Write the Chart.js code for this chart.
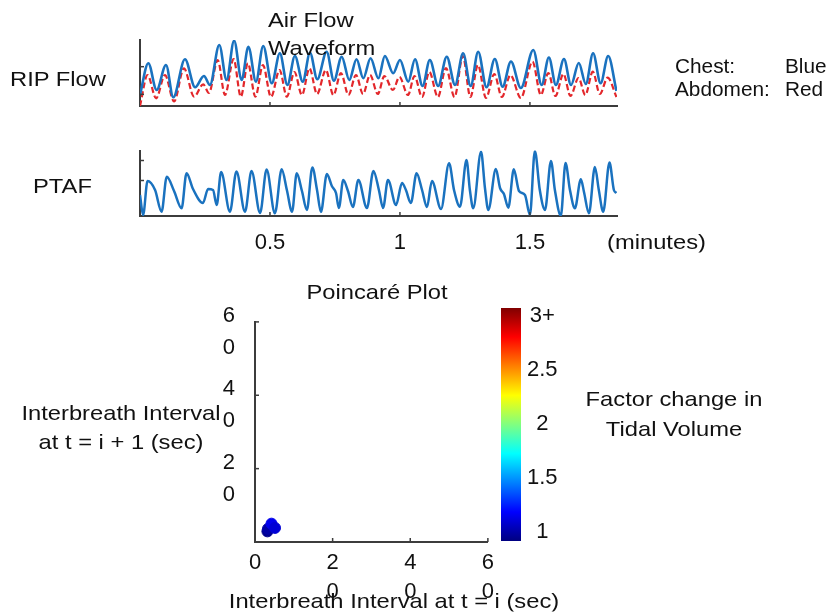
<!DOCTYPE html>
<html>
<head>
<meta charset="utf-8">
<script src="https://cdn.jsdelivr.net/npm/chart.js@4.4.1/dist/chart.umd.min.js"></script>
<style>
  html, body { margin: 0; padding: 0; background: #fff; }
  #fig { position: relative; width: 832px; height: 616px; overflow: hidden;
         font-family: "Liberation Sans", Arial, sans-serif; color: #111; }
  canvas { position: absolute; }
  .t { position: absolute; white-space: nowrap; line-height: 1; font-size: 21px; }
  .l { transform: translateY(-50%) scaleX(1.13); transform-origin: left center; }
  .c { transform: translate(-50%, -50%) scaleX(1.13); transform-origin: center center; }
  .s { font-size: 20px; transform: translateY(-50%) scaleX(1.04); transform-origin: left center; }
</style>
</head>
<body>
<div id="fig">
  <canvas id="rip" width="832" height="130" style="left:0;top:0"></canvas>
  <canvas id="ptaf" width="832" height="130" style="left:0;top:130px"></canvas>
  <canvas id="poincare" width="500" height="346" style="left:0;top:270px"></canvas>
  <canvas id="cbar" width="120" height="346" style="left:490px;top:270px"></canvas>

  <div class="t l" style="left:268px;top:19px">Air Flow</div>
  <div class="t l" style="left:268px;top:47px">Waveform</div>
  <div class="t l" style="left:10px;top:78px">RIP Flow</div>
  <div class="t l" style="left:33px;top:185px">PTAF</div>
  <div class="t s" style="left:675px;top:66px">Chest:</div>
  <div class="t s" style="left:785px;top:66px">Blue</div>
  <div class="t s" style="left:675px;top:89px">Abdomen:</div>
  <div class="t s" style="left:785px;top:89px">Red</div>
  <div class="t l" style="left:607px;top:241px">(minutes)</div>
  <div class="t c" style="left:377px;top:291px">Poincaré Plot</div>
  <div class="t c" style="left:121px;top:412px">Interbreath Interval</div>
  <div class="t c" style="left:121px;top:441px">at t = i + 1 (sec)</div>
  <div class="t c" style="left:674px;top:398px">Factor change in</div>
  <div class="t c" style="left:674px;top:428px">Tidal Volume</div>
  <div class="t c" style="left:394px;top:600px">Interbreath Interval at t = i (sec)</div>
</div>

<script>
// ---- RIP flow (minutes, arbitrary flow units) ----
const ripTime = [0, 0.032, 0.064, 0.100, 0.128, 0.173, 0.212, 0.246, 0.269, 0.305, 0.333, 0.362, 0.391, 0.417, 0.446, 0.474, 0.507, 0.538, 0.567, 0.596, 0.626, 0.654, 0.682, 0.718, 0.746, 0.776, 0.805, 0.833, 0.859, 0.887, 0.917, 0.942, 0.974, 1.000, 1.032, 1.058, 1.087, 1.115, 1.147, 1.180, 1.212, 1.243, 1.272, 1.301, 1.333, 1.365, 1.395, 1.427, 1.465, 1.513, 1.545, 1.573, 1.600, 1.631, 1.658, 1.688, 1.715, 1.743, 1.772, 1.801, 1.833];
const chestFlow = [-0.025, 1.123, 0.156, 1.062, -0.109, 1.268, 0.254, 0.663, 0.337, 1.786, 0.518, 1.942, 0.518, 1.725, 0.457, 1.750, 0.399, 1.486, 0.337, 1.388, 0.457, 1.507, 0.543, 1.543, 0.493, 1.362, 0.518, 1.268, 0.580, 1.304, 0.580, 1.388, 0.761, 1.243, 0.457, 1.268, 0.301, 1.243, 0.301, 1.362, 0.337, 1.486, 0.301, 1.543, 0.254, 1.279, 0.275, 1.188, 0.228, 1.605, 0.337, 1.333, 0.337, 1.279, 0.337, 1.134, 0.373, 1.486, 0.399, 1.388, 0.120];
const abdomenTime = [0, 0.029, 0.062, 0.096, 0.131, 0.169, 0.208, 0.243, 0.265, 0.299, 0.327, 0.360, 0.388, 0.415, 0.444, 0.473, 0.504, 0.537, 0.565, 0.594, 0.623, 0.652, 0.681, 0.715, 0.744, 0.773, 0.802, 0.831, 0.858, 0.885, 0.915, 0.940, 0.973, 0.998, 1.031, 1.056, 1.085, 1.113, 1.146, 1.177, 1.210, 1.242, 1.271, 1.300, 1.331, 1.363, 1.392, 1.425, 1.465, 1.510, 1.542, 1.571, 1.598, 1.629, 1.656, 1.687, 1.713, 1.742, 1.769, 1.799, 1.833];
const abdomenFlow = [-0.424, 0.699, -0.145, 0.699, -0.261, 0.942, -0.087, 0.362, 0.047, 1.243, -0.025, 1.279, -0.087, 1.123, -0.087, 1.062, -0.098, 0.880, -0.087, 0.808, -0.025, 0.942, 0.011, 0.880, -0.025, 0.772, -0.025, 0.699, 0.011, 0.699, 0.011, 0.663, 0.156, 0.627, -0.025, 0.663, -0.098, 0.808, -0.098, 0.953, -0.098, 1.388, -0.098, 1.062, -0.134, 0.736, -0.098, 0.699, -0.134, 1.181, -0.025, 0.772, -0.062, 0.736, -0.062, 0.591, -0.025, 0.819, 0.011, 0.601, -0.098];

// ---- PTAF (nasal pressure air flow) ----
const ptafTime = [0, 0.012, 0.029, 0.058, 0.083, 0.103, 0.131, 0.160, 0.179, 0.204, 0.242, 0.262, 0.281, 0.295, 0.312, 0.346, 0.371, 0.404, 0.429, 0.462, 0.487, 0.519, 0.545, 0.565, 0.585, 0.603, 0.623, 0.642, 0.663, 0.681, 0.696, 0.719, 0.738, 0.754, 0.765, 0.782, 0.800, 0.819, 0.840, 0.873, 0.898, 0.919, 0.935, 0.954, 0.985, 1.008, 1.023, 1.042, 1.064, 1.085, 1.104, 1.123, 1.158, 1.189, 1.208, 1.231, 1.256, 1.269, 1.282, 1.312, 1.327, 1.340, 1.369, 1.385, 1.400, 1.417, 1.438, 1.458, 1.481, 1.500, 1.519, 1.538, 1.558, 1.581, 1.596, 1.619, 1.637, 1.654, 1.673, 1.696, 1.708, 1.727, 1.750, 1.765, 1.782, 1.806, 1.823, 1.833];
const ptafFlow = [-0.725, -1.725, -0.025, -0.475, -1.56, 0.19, -0.525, -1.39, 0.36, -0.425, -1.125, -0.425, -0.475, -1.225, 0.425, -1.56, 0.45, -1.56, 0.475, -1.625, 0.55, -1.64, 0.56, -0.475, -1.56, 0.36, -0.525, -1.475, 0.65, -0.475, -1.575, 0.325, -0.275, -0.625, -1.375, 0.025, -0.525, -1.325, 0.025, -1.375, 0.475, -0.475, -1.375, 0.025, -1.225, -0.125, -0.475, -1.125, 0.36, -0.475, -1.325, -0.025, -1.425, 0.86, -0.475, -1.31, 1.025, -0.475, -1.39, 1.44, -0.375, -1.475, 0.575, -0.375, -0.675, -1.36, 0.56, -0.525, -0.725, -1.725, 1.475, -0.475, -1.475, 0.975, -0.475, -1.76, 0.875, -0.475, -1.39, 0.065, -0.575, -1.64, 0.675, -0.475, -1.56, 0.9, -0.475, -0.625];
const timeTicks = [0.5, 1, 1.5];
const flowTicks = [0, 1];

// ---- Poincaré plot (seconds) and tidal-volume factor ----
const ibiCurrent = [3.2, 3.35, 4.25, 5.15];
const ibiNext = [2.9, 3.6, 5.0, 3.85];
const tidalFactor = [0.95, 1.0, 1.15, 1.1];
const ibiTicks = [0, 20, 40, 60];
const ibiNextTicks = [20, 40, 60];
const factorTicks = [1, 1.5, 2, 2.5, 3];
const factorRange = [0.92, 3.07];

const FONT = '"Liberation Sans", Arial, sans-serif';
const AXIS = '#3c3c3c';
const BLUE = '#1a72bf';
const RED = '#e3272b';
Chart.defaults.font.family = FONT;
Chart.defaults.color = '#111';

function jet(f) {
  const c = v => Math.round(255 * Math.max(0, Math.min(1, v)));
  return `rgb(${c(1.5 - Math.abs(4 * f - 3))},${c(1.5 - Math.abs(4 * f - 2))},${c(1.5 - Math.abs(4 * f - 1))})`;
}
const factorColor = v => jet((v - factorRange[0]) / (factorRange[1] - factorRange[0]));
const pts = (xs, ys) => xs.map((x, i) => ({ x, y: ys[i] }));
const setTicks = list => s => { s.ticks = list.map(v => ({ value: v })); };

// short tick marks pointing into the plot area
const inwardTicks = {
  id: 'inwardTicks',
  afterDatasetsDraw(chart, args, opts) {
    const { ctx, chartArea: a } = chart;
    ctx.save();
    ctx.strokeStyle = AXIS;
    ctx.lineWidth = 1.5;
    (opts.scales || []).forEach(id => {
      const s = chart.scales[id];
      s.ticks.forEach(t => {
        const p = s.getPixelForValue(t.value);
        ctx.beginPath();
        if (s.isHorizontal()) { ctx.moveTo(p, a.bottom); ctx.lineTo(p, a.bottom - opts.len); }
        else { ctx.moveTo(a.left, p); ctx.lineTo(a.left + opts.len, p); }
        ctx.stroke();
      });
    });
    ctx.restore();
  }
};

// colour bar fill: jet gradient laid along the bar's value scale
const jetFill = {
  id: 'jetFill',
  afterLayout(chart) {
    const y = chart.scales.y;
    const y0 = y.getPixelForValue(factorRange[0]);
    const y1 = y.getPixelForValue(factorRange[1]);
    if (!isFinite(y0) || !isFinite(y1)) return;
    const g = chart.ctx.createLinearGradient(0, y0, 0, y1);
    for (let i = 0; i <= 16; i++) g.addColorStop(i / 16, jet(i / 16));
    chart.data.datasets[0].backgroundColor = g;
  }
};

function waveScales(yMin, yMax, xHeight, showLabels) {
  return {
    x: {
      type: 'linear', min: 0, max: 1.835,
      afterBuildTicks: setTicks(timeTicks),
      afterFit: s => { s.height = xHeight; },
      grid: { display: false, drawTicks: false },
      border: { color: AXIS, width: 2 },
      ticks: { display: showLabels, padding: 14, autoSkip: false, maxRotation: 0,
               font: { size: 22 }, callback: v => String(v) }
    },
    y: {
      min: yMin, max: yMax,
      afterBuildTicks: setTicks(flowTicks),
      afterFit: s => { s.width = 140; },
      grid: { display: false, drawTicks: false },
      border: { color: AXIS, width: 2 },
      ticks: { display: false }
    }
  };
}

const lineStyle = { pointRadius: 0, cubicInterpolationMode: 'monotone', fill: false };

new Chart(document.getElementById('rip'), {
  type: 'line',
  data: {
    datasets: [
      { label: 'Chest', data: pts(ripTime, chestFlow), borderColor: BLUE, borderWidth: 2.6, ...lineStyle },
      { label: 'Abdomen', data: pts(abdomenTime, abdomenFlow), borderColor: RED, borderWidth: 2.2, borderDash: [6, 3], ...lineStyle }
    ]
  },
  options: {
    responsive: false, animation: false, events: [],
    layout: { padding: { left: 0, right: 215, top: 40, bottom: 0 } },
    scales: waveScales(-0.424, 1.967, 24, false),
    plugins: { legend: { display: false }, tooltip: { enabled: false },
               inwardTicks: { scales: ['x', 'y'], len: 4 } }
  },
  plugins: [inwardTicks]
});

new Chart(document.getElementById('ptaf'), {
  type: 'line',
  data: {
    datasets: [
      { label: 'PTAF', data: pts(ptafTime, ptafFlow), borderColor: BLUE, borderWidth: 2.5, ...lineStyle }
    ]
  },
  options: {
    responsive: false, animation: false, events: [],
    layout: { padding: { left: 0, right: 215, top: 20.5, bottom: 0 } },
    scales: waveScales(-1.775, 1.5, 44, true),
    plugins: { legend: { display: false }, tooltip: { enabled: false },
               inwardTicks: { scales: ['x', 'y'], len: 4 } }
  },
  plugins: [inwardTicks]
});

new Chart(document.getElementById('poincare'), {
  type: 'scatter',
  data: {
    datasets: [{
      label: 'Interbreath intervals',
      data: pts(ibiCurrent, ibiNext),
      pointRadius: 5.5,
      pointBackgroundColor: tidalFactor.map(factorColor),
      pointBorderColor: tidalFactor.map(factorColor),
      pointBorderWidth: 1
    }]
  },
  options: {
    responsive: false, animation: false, events: [],
    layout: { padding: { left: 0, right: 12, top: 37, bottom: 0 } },
    scales: {
      x: {
        type: 'linear', min: 0, max: 60,
        afterBuildTicks: setTicks(ibiTicks),
        afterFit: s => { s.height = 74; },
        grid: { display: false, drawTicks: false },
        border: { color: AXIS, width: 2 },
        ticks: { padding: 6, autoSkip: false, maxRotation: 0,
                 font: { size: 22, lineHeight: 1.32 },
                 callback: v => v === 0 ? '0' : String(v).split('') }
      },
      y: {
        type: 'linear', min: 0, max: 60,
        afterBuildTicks: setTicks(ibiNextTicks),
        afterFit: s => { s.width = 255; },
        grid: { display: false, drawTicks: false },
        border: { color: AXIS, width: 2 },
        ticks: { padding: 20, labelOffset: 10,
                 font: { size: 22, lineHeight: 1.45 },
                 callback: v => String(v).split('') }
      }
    },
    plugins: { legend: { display: false }, tooltip: { enabled: false },
               inwardTicks: { scales: ['x', 'y'], len: 4 } }
  },
  plugins: [inwardTicks]
});

new Chart(document.getElementById('cbar'), {
  type: 'bar',
  data: {
    labels: ['Tidal volume factor'],
    datasets: [{
      data: [factorRange],
      barPercentage: 1, categoryPercentage: 1, borderWidth: 0, borderSkipped: false,
      backgroundColor: '#0000ff'
    }]
  },
  options: {
    responsive: false, animation: false, events: [],
    layout: { padding: { left: 11, right: 0, top: 38, bottom: 75 } },
    scales: {
      x: { display: false },
      y: {
        position: 'right', min: factorRange[0], max: factorRange[1],
        afterBuildTicks: setTicks(factorTicks),
        afterFit: s => { s.width = 89; },
        grid: { display: false, drawTicks: false },
        border: { display: false },
        ticks: { padding: 6, crossAlign: 'center', font: { size: 22 },
                 callback: v => v === 3 ? '3+' : String(v) }
      }
    },
    plugins: { legend: { display: false }, tooltip: { enabled: false } }
  },
  plugins: [jetFill]
});
</script>
</body>
</html>
